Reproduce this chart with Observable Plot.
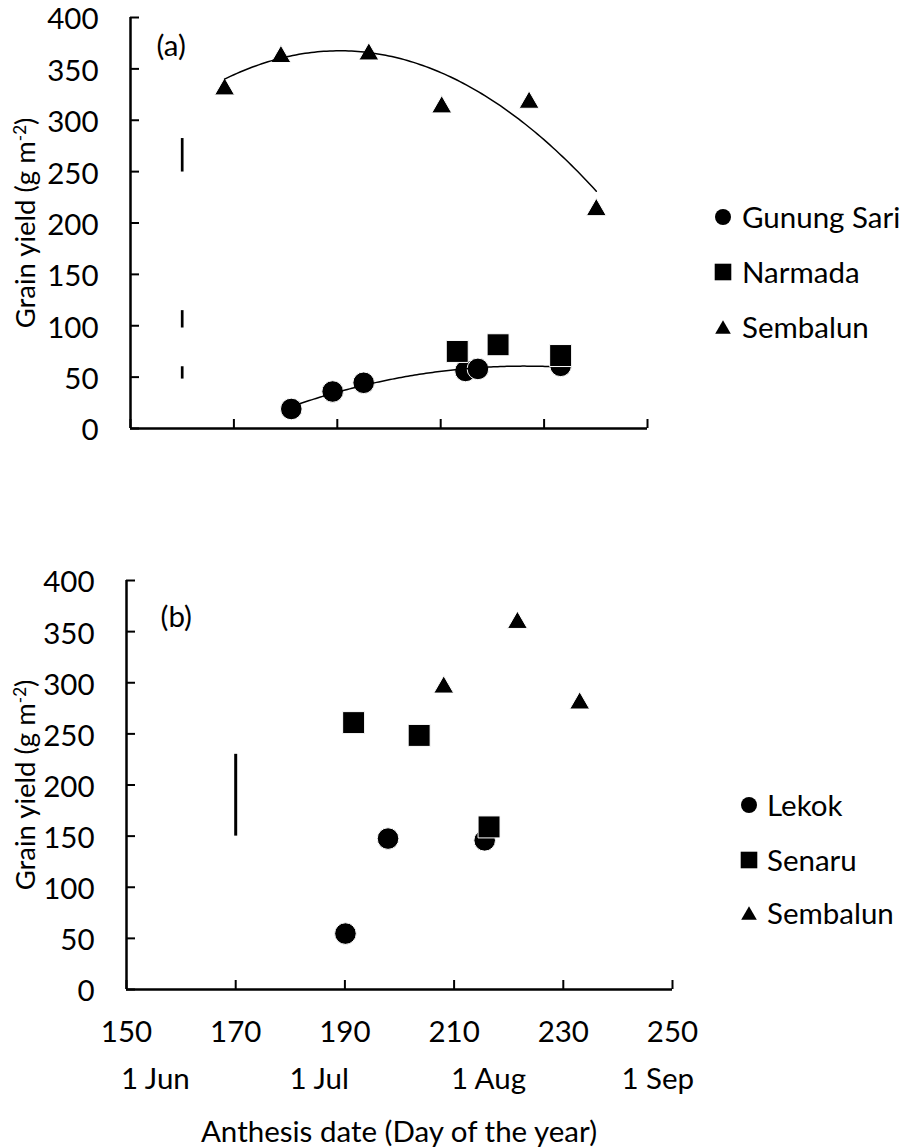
<!DOCTYPE html>
<html>
<head>
<meta charset="utf-8">
<script src="https://cdn.jsdelivr.net/npm/d3@7"></script>
<script src="https://cdn.jsdelivr.net/npm/@observablehq/plot@0.6"></script>
<style>
  html, body { margin: 0; padding: 0; background: #fff; }
  #root { position: relative; width: 902px; height: 1148px; font-family: Lato, sans-serif; color: #000; overflow: hidden; }
  #root > svg { position: absolute; left: 0; }
  #root .ylab { position: absolute; font-size: 27.5px; line-height: 1; white-space: nowrap; transform: translate(-50%, -50%) rotate(-90deg); }
  #root .ylab sup { font-size: 17px; vertical-align: 0.55em; line-height: 0; }
  #root .xtitle { position: absolute; font-size: 29.5px; line-height: 1; white-space: nowrap; transform: translate(-50%, -50%); }
  #root .leg { position: absolute; display: flex; align-items: center; height: 20px; font-size: 29.5px; line-height: 20px; white-space: nowrap; }
  #root .leg svg { position: static; flex: none; }
</style>
</head>
<body>
<div id="root"></div>
<script>
// ---------- data ----------
const xTicks = [150, 170, 190, 210, 230, 250];
const yTicks = [0, 50, 100, 150, 200, 250, 300, 350, 400];
const monthDays = [152, 182, 213, 244];
const monthLabels = ["1 Jun", "1 Jul", "1 Aug", "1 Sep"];

// Panel (a)
const gunungSariDay   = [181.1, 189.1, 195.1, 214.8, 217.2, 233.2];
const gunungSariYield = [19, 36, 44.5, 56, 58, 61];
const narmadaDay      = [213.2, 221.1, 233.2];
const narmadaYield    = [75, 81.5, 71];
const sembalunADay    = [168.2, 179.1, 196.1, 210.2, 227.1, 240.1];
const sembalunAYield  = [336.5, 368, 370.5, 319, 323.5, 219];
const lsdADay = 160;
const lsdALow  = [249.6, 97.8, 48.1];
const lsdAHigh = [282.2, 114.7, 60.1];
const legendA = ["Gunung Sari", "Narmada", "Sembalun"];

// Panel (b)
const lekokDay       = [190.1, 197.9, 215.6];
const lekokYield     = [54.7, 147.6, 145.9];
const senaruDay      = [191.6, 203.6, 216.4];
const senaruYield    = [261, 248.5, 159];
const sembalunBDay   = [208.1, 221.6, 233.0];
const sembalunBYield = [301.8, 365, 286.2];
const lsdBDay = 170;
const lsdBLow  = [150];
const lsdBHigh = [230];
const legendB = ["Lekok", "Senaru", "Sembalun"];

// ---------- helpers ----------
const zip = (xs, ys) => xs.map((x, i) => ({x, y: ys[i]}));
// least-squares quadratic trend line (as in the original spreadsheet chart)
function quadFit(xs, ys) {
  const m = d3.mean(xs);
  const S = [0, 0, 0, 0, 0], T = [0, 0, 0];
  xs.forEach((x, i) => {
    const u = x - m; let p = 1;
    for (let k = 0; k < 5; k++) { S[k] += p; if (k < 3) T[k] += p * ys[i]; p *= u; }
  });
  const A = [[S[0], S[1], S[2]], [S[1], S[2], S[3]], [S[2], S[3], S[4]]];
  const det = M => M[0][0]*(M[1][1]*M[2][2]-M[1][2]*M[2][1]) - M[0][1]*(M[1][0]*M[2][2]-M[1][2]*M[2][0]) + M[0][2]*(M[1][0]*M[2][1]-M[1][1]*M[2][0]);
  const D = det(A);
  const c = [0, 1, 2].map(j => det(A.map((row, r) => row.map((v, col) => col === j ? T[r] : v))) / D);
  const f = x => { const u = x - m; return c[0] + c[1]*u + c[2]*u*u; };
  const [lo, hi] = d3.extent(xs);
  return d3.range(0, 121).map(i => { const x = lo + (hi - lo) * i / 120; return {x, y: f(x)}; });
}

const style = {fontFamily: "Lato, sans-serif", fontSize: "29.5px", color: "#000", background: "transparent", overflow: "visible"};
const markerStyle = {fill: "#000", stroke: "#fff", strokeWidth: 1};
const triDy = 6.4; // spreadsheet triangle markers sit slightly below their data point

// ---------- panel (a) ----------
const aTop = 4;
const aW = 902, aL = 130, aR = 255, aT = 13, aH = 436, aB = 12;
const aPlotW = aW - aL - aR, aPlotH = aH - aT - aB;
const plotA = Plot.plot({
  width: aW, height: aH, marginLeft: aL, marginRight: aR, marginTop: aT, marginBottom: aB,
  style,
  x: {domain: [150, 250], axis: null},
  y: {domain: [0, 400]},
  marks: [
    Plot.axisY({ticks: yTicks, tickSize: 0, tickPadding: 32, dy: 2.5, label: null, tickFormat: d => d}),
    Plot.tickY(yTicks, {y: d => d, insetRight: aPlotW - 9, strokeWidth: 2}),
    Plot.tickX(xTicks, {x: d => d, insetTop: aPlotH - 9, strokeWidth: 2}),
    Plot.ruleX([150], {strokeWidth: 2.5}),
    Plot.ruleY([0], {strokeWidth: 2.5}),
    Plot.ruleX(lsdALow, {x: () => lsdADay, y1: d => d, y2: (d, i) => lsdAHigh[i], strokeWidth: 2.7}),
    Plot.dot(zip(gunungSariDay, gunungSariYield), {x: "x", y: "y", symbol: "circle", r: 10.8, ...markerStyle}),
    Plot.line(quadFit(gunungSariDay, gunungSariYield), {x: "x", y: "y", stroke: "#000", strokeWidth: 1.5}),
    Plot.dot(zip(narmadaDay, narmadaYield), {x: "x", y: "y", symbol: "square", r: 12.4, ...markerStyle}),
    Plot.dot(zip(sembalunADay, sembalunAYield), {x: "x", y: "y", symbol: "triangle", r: 7.4, dy: triDy, ...markerStyle}),
    Plot.line(quadFit(sembalunADay, sembalunAYield), {x: "x", y: "y", stroke: "#000", strokeWidth: 1.5}),
    Plot.text(["(a)"], {frameAnchor: "top-left", dx: 26, dy: 29.5, textAnchor: "start", lineAnchor: "middle"})
  ]
});
plotA.style.top = aTop + "px";

// ---------- panel (b) ----------
const bTop = 540;
const bW = 902, bL = 126, bR = 230, bT = 40, bH = 608, bB = 159;
const bPlotW = bW - bL - bR, bPlotH = bH - bT - bB;
const plotB = Plot.plot({
  width: bW, height: bH, marginLeft: bL, marginRight: bR, marginTop: bT, marginBottom: bB,
  style,
  x: {domain: [150, 250]},
  y: {domain: [0, 400]},
  marks: [
    Plot.axisY({ticks: yTicks, tickSize: 0, tickPadding: 32, dy: 2.5, label: null, tickFormat: d => d}),
    Plot.axisX({ticks: xTicks, tickSize: 0, tickPadding: 32, label: null, tickFormat: d => d}),
    Plot.axisX({ticks: monthDays, tickSize: 0, tickPadding: 79, dx: 18, label: null,
                tickFormat: d => monthLabels[monthDays.indexOf(d)]}),
    Plot.tickY(yTicks, {y: d => d, insetRight: bPlotW - 9, strokeWidth: 2}),
    Plot.tickX(xTicks, {x: d => d, insetTop: bPlotH - 9, strokeWidth: 2}),
    Plot.ruleX([150], {strokeWidth: 2.5}),
    Plot.ruleY([0], {strokeWidth: 2.5}),
    Plot.ruleX(lsdBLow, {x: () => lsdBDay, y1: d => d, y2: (d, i) => lsdBHigh[i], strokeWidth: 3}),
    Plot.dot(zip(lekokDay, lekokYield), {x: "x", y: "y", symbol: "circle", r: 10.8, ...markerStyle}),
    Plot.dot(zip(senaruDay, senaruYield), {x: "x", y: "y", symbol: "square", r: 12.4, ...markerStyle}),
    Plot.dot(zip(sembalunBDay, sembalunBYield), {x: "x", y: "y", symbol: "triangle", r: 7.4, dy: triDy, ...markerStyle}),
    Plot.text(["(b)"], {frameAnchor: "top-left", dx: 34, dy: 37.5, textAnchor: "start", lineAnchor: "middle"})
  ]
});
plotB.style.top = bTop + "px";

const root = document.getElementById("root");
root.appendChild(plotA);
root.appendChild(plotB);

// ---------- axis titles ----------
function addDiv(cls, html, x, y) {
  const d = document.createElement("div");
  d.className = cls; d.innerHTML = html;
  d.style.left = x + "px"; d.style.top = y + "px";
  root.appendChild(d);
}
const yTitle = "Grain yield (g m<sup>-2</sup>)";
addDiv("ylab", yTitle, 25, aTop + aT + aPlotH / 2);
addDiv("ylab", yTitle, 25, bTop + bT + bPlotH / 2);
addDiv("xtitle", "Anthesis date (Day of the year)", bL + bPlotW / 2, 1131);

// ---------- legends ----------
const shapeSvg = {
  circle: '<circle cx="10" cy="10" r="8" fill="#000"/>',
  square: '<rect x="1.7" y="1.7" width="16.6" height="16.6" fill="#000"/>',
  triangle: '<polygon points="2.2,16.8 17.8,16.8 10,3.2" fill="#000"/>'
};
const shapes = ["circle", "square", "triangle"];
function addLegend(names, markerX, textX, rowsY) {
  names.forEach((name, i) => {
    const d = document.createElement("div");
    d.className = "leg";
    d.style.left = (markerX - 10) + "px";
    d.style.top = (rowsY[i] - 10) + "px";
    d.innerHTML = `<svg width="20" height="20" viewBox="0 0 20 20">${shapeSvg[shapes[i]]}</svg><span style="margin-left:${textX - markerX - 10}px">${name}</span>`;
    root.appendChild(d);
  });
}
addLegend(legendA, 723, 742, [216.7, 271.7, 326.7]);
addLegend(legendB, 749, 767, [805, 860, 913.3]);
</script>
</body>
</html>
